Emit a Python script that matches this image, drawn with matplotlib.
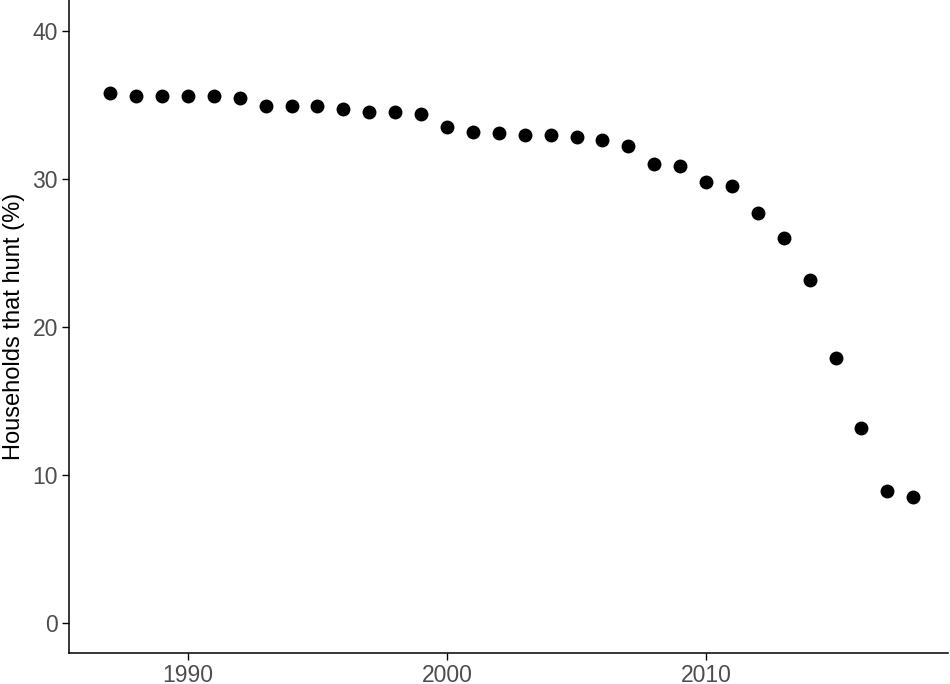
import matplotlib.pyplot as plt

plt.rcParams["font.family"] = ["Liberation Sans", "DejaVu Sans"]

years = list(range(1987, 2019))
pct_hunt = [35.8, 35.6, 35.6, 35.6, 35.6, 35.5, 34.9, 34.9, 34.9, 34.7,
            34.5, 34.5, 34.4, 33.5, 33.2, 33.1, 33.0, 33.0, 32.8, 32.6,
            32.2, 31.0, 30.9, 29.8, 29.5, 27.7, 26.0, 23.2, 17.9, 13.2,
            8.9, 8.5]

x_ticks = [1990, 2000, 2010]
y_ticks = [0, 10, 20, 30, 40]

fig = plt.figure(figsize=(9.5, 6.84), dpi=100)
ax = fig.add_axes([69 / 950, 31 / 684, (948 - 69) / 950, 653 / 684])

ax.plot(years, pct_hunt, "o", color="black", markersize=10, markeredgewidth=0)

ax.set_xlim(1985.41, 2019.34)
ax.set_ylim(-2.03, 42.09)
ax.set_xticks(x_ticks)
ax.set_yticks(y_ticks)
ax.tick_params(color="black", labelcolor="#4d4d4d", labelsize=16.5,
               length=5, width=1, pad=3)
ax.set_ylabel("Households that hunt (%)", fontsize=17, labelpad=5)

for side in ("top", "right"):
    ax.spines[side].set_visible(False)
for side in ("left", "bottom"):
    ax.spines[side].set_linewidth(1.1)

fig.savefig("out.png", dpi=100)
